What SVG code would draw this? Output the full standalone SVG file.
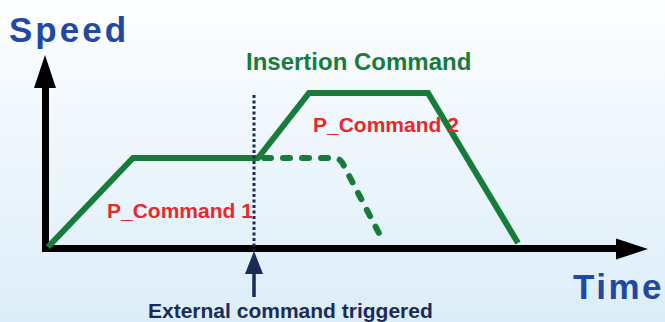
<svg xmlns="http://www.w3.org/2000/svg" width="665" height="322" viewBox="0 0 665 322">
  <defs>
    <linearGradient id="bg" x1="0" y1="0" x2="0" y2="1">
      <stop offset="0" stop-color="#fdfeff"/>
      <stop offset="1" stop-color="#dcedf9"/>
    </linearGradient>
  </defs>
  <style>
    .axis { fill: none; stroke: #000; stroke-width: 7; }
    .head { fill: #000; }
    .prof { fill: none; stroke: #177c3a; stroke-width: 6; stroke-linejoin: miter; }
    .dash { fill: none; stroke: #177c3a; stroke-width: 6; stroke-dasharray: 7 12; stroke-linecap: round; }
    .trig { fill: none; stroke: #1b2b57; stroke-width: 3; stroke-dasharray: 3 2.5; }
    .lbl { font-family: "Liberation Sans", Arial, sans-serif; font-weight: bold; }
    .axlbl { fill: #2149a1; font-size: 35px; }
    .cmd { fill: #e8282a; font-size: 21px; }
    .ins { fill: #177c3a; font-size: 24px; }
    .ext { fill: #1b2b57; font-size: 21px; }
  </style>
  <rect x="0" y="0" width="665" height="322" fill="url(#bg)"/>

  <g id="axes">
    <path class="axis" d="M45.5,86 V248.5 H620"/>
    <polygon class="head" points="45,55 34,88 56,88"/>
    <polygon class="head" points="648,249 616,238.5 616,259.5"/>
  </g>
  <g id="speed-label">
    <text class="lbl axlbl" x="9" y="42" letter-spacing="3">Speed</text>
  </g>
  <g id="time-label">
    <text class="lbl axlbl" x="573" y="299" letter-spacing="2.5">Time</text>
  </g>

  <g id="connectors">
    <path class="dash" d="M264,158 H334 Q340,158 343,164 L383,241"/>
    <path class="prof" d="M48,247 L133,158 H258 L309,93 H428 L518,243"/>
    <line class="trig" x1="254" y1="95" x2="254" y2="250"/>
    <line x1="254" y1="272" x2="254" y2="297" stroke="#1b2b57" stroke-width="3.5"/>
    <polygon points="254,251 245,274 263,274" fill="#1b2b57"/>
  </g>

  <g id="insertion-command">
    <text class="lbl ins" x="246" y="70">Insertion Command</text>
  </g>
  <g id="p-command-2">
    <text class="lbl cmd" x="313" y="132">P_Command 2</text>
  </g>
  <g id="p-command-1">
    <text class="lbl cmd" x="107" y="218">P_Command 1</text>
  </g>
  <g id="external-trigger">
    <text class="lbl ext" x="148" y="318">External command triggered</text>
  </g>
</svg>
